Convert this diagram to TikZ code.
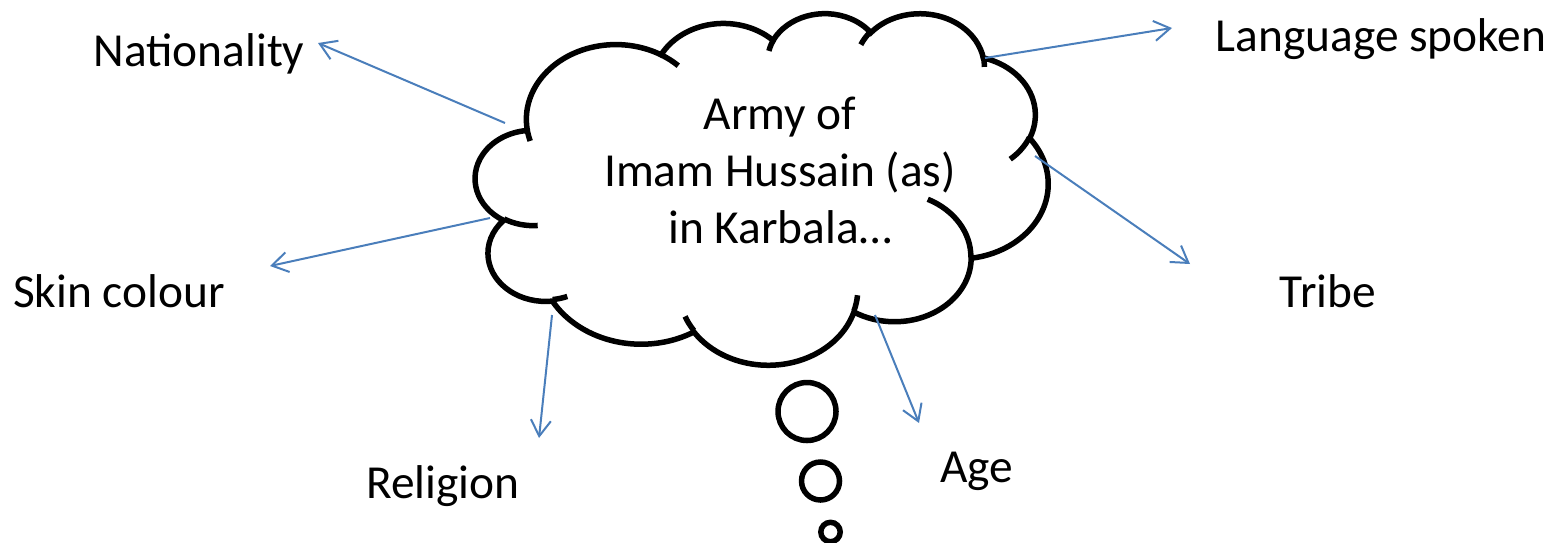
\documentclass[tikz,border=0pt]{standalone}
\usepackage{fontspec}
\setmainfont{Carlito}
\usetikzlibrary{arrows.meta}
\definecolor{linkblue}{HTML}{4A7EBB}
\tikzset{
  cloudline/.style={line width=2.75pt, line join=miter},
  bubble/.style={line width=2.75pt},
  pointer/.style={draw=linkblue, line width=1pt, -{Straight Barb[length=8pt,width=10pt]}},
  lbl/.style={font=\fontsize{23.7}{28.5}\selectfont, inner sep=0pt, anchor=base}
}
\begin{document}
\begin{tikzpicture}[x=0.5pt, y=-0.5pt]
\useasboundingbox (0,0) rectangle (1566,542);
% the cloud
\begin{scope}[shift={(475.5,12.5)}, x=0.6626pt, y=-0.4068pt]
\draw[cloudline] (39.00,143.70)
  \foreach \rx/\ry/\sa/\sw [evaluate=\sa as \ta using {atan2(\rx*sin(\sa),\ry*cos(\sa))},
                            evaluate=\sw as \tb using {atan2(\rx*sin(\sa+\sw),\ry*cos(\sa+\sw))},
                            evaluate=\sw as \tw using {mod(\tb-(\ta)+720,360)}] in
  {67.53/91.90/-190.487/123.781, 53.33/72.67/-144.102/89.945,
   43.65/59.45/-145.808/99.723, 48.57/65.95/-130.986/117.242,
   53.33/72.73/-78.709/109.027, 67.75/92.20/-46.267/130.269,
   57.85/78.67/0.625/114.033, 67.52/92.15/22.452/115.173,
   77.20/105.43/66.243/75.711, 43.60/59.18/-274.942/146.736,
   43.45/59.45/-246.829/152.519}
  { arc[start angle=\ta, delta angle=\tw, x radius=\rx, y radius=\ry] } -- cycle;
% inner hooks
\foreach \px/\py/\rx/\ry/\sa/\sw [evaluate=\sa as \ta using {atan2(\rx*sin(\sa),\ry*cos(\sa))},
                                  evaluate=\sw as \tb using {atan2(\rx*sin(\sa+\sw),\ry*cos(\sa+\sw))},
                                  evaluate=\sw as \tw using {mod(\tb-(\ta)+720,360)}] in
  {46.93/261.77/43.45/59.45/86.742/26.430, 69.28/348.99/43.60/59.18/73.610/11.447,
   164.78/390.90/67.52/92.15/137.624/14.081, 288.27/347.51/67.52/92.15/6.453/15.998,
   341.29/229.54/57.85/78.67/-70.292/70.917, 417.98/153.54/53.33/72.73/30.318/27.752,
   383.24/54.26/48.57/65.95/-13.744/14.859, 290.78/39.52/48.57/65.95/-149.181/18.195,
   221.41/47.20/43.65/59.45/-163.494/17.686, 140.00/51.92/67.53/91.90/-66.707/12.319,
   41.27/157.89/67.53/91.90/157.654/11.858}
  \draw[cloudline] (\px,\py) arc[start angle=\ta, delta angle=\tw, x radius=\rx, y radius=\ry];
\end{scope}
\node[font=\fontsize{23.7}{28.5}\selectfont, align=center, inner sep=0pt] (army) at (780,170)
  {Army of\\Imam Hussain (as)\\in Karbala…};
% thought bubbles
\draw[bubble] (807,411.5) circle (29);
\draw[bubble] (820.5,481) circle (19);
\draw[bubble] (830.5,532) circle (9.7);
% labels
\node[lbl] (natl) at (199,66) {Nationality};
\node[lbl] (lang) at (1381,51) {Language spoken};
\node[lbl] (skin) at (119,307) {Skin colour};
\node[lbl] (tribe) at (1328,307) {Tribe};
\node[lbl] (relig) at (443,498) {Religion};
\node[lbl] (age) at (977,482) {Age};
% arrow ends
\coordinate (natl-from) at (505,123);  \coordinate (natl-to) at (318,43);
\coordinate (lang-from) at (985,58);   \coordinate (lang-to) at (1172,28);
\coordinate (skin-from) at (490,218);  \coordinate (skin-to) at (270,266);
\coordinate (tribe-from) at (1035,156); \coordinate (tribe-to) at (1190,264);
\coordinate (relig-from) at (552,315); \coordinate (relig-to) at (539,438);
\coordinate (age-from) at (875,315);   \coordinate (age-to) at (919,423);
\draw[pointer] (natl-from) -- (natl-to);
\draw[pointer] (lang-from) -- (lang-to);
\draw[pointer] (skin-from) -- (skin-to);
\draw[pointer] (tribe-from) -- (tribe-to);
\draw[pointer] (relig-from) -- (relig-to);
\draw[pointer] (age-from) -- (age-to);
\end{tikzpicture}
\end{document}
